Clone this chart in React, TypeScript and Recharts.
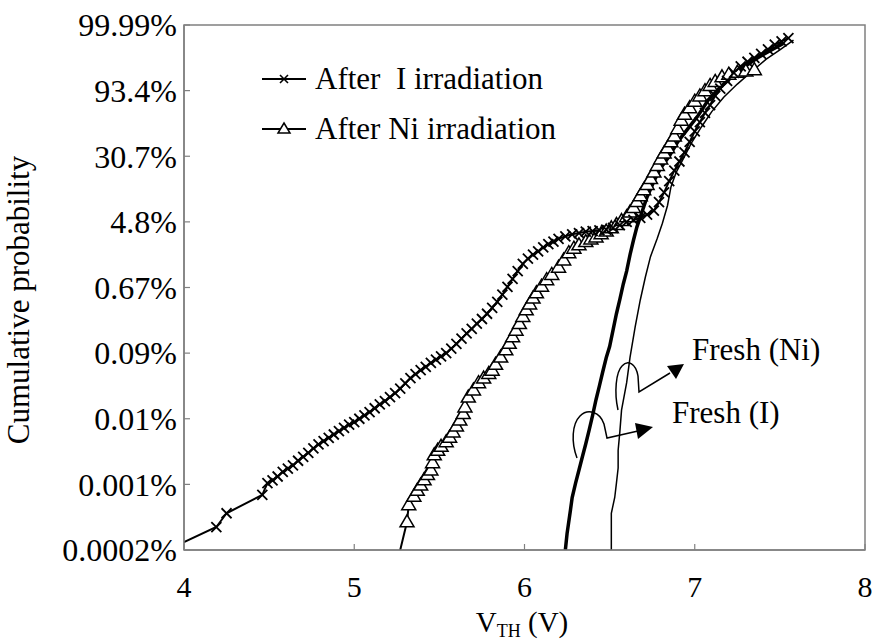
import { LineChart, Line, XAxis, YAxis, ReferenceArea, Customized } from "recharts";

const FONT = '"Liberation Serif", "Times New Roman", serif';
const AXIS_GRAY = "#808080";

// y axis is an evenly spaced probability scale, one step per label
const probTicks = [0, 1, 2, 3, 4, 5, 6, 7, 8];
const probLabels = ["0.0002%", "0.001%", "0.01%", "0.09%", "0.67%", "4.8%", "30.7%", "93.4%", "99.99%"];
const vthTicks = [4, 5, 6, 7, 8];

// [V_TH (V), probability step]
const afterI: [number, number][] = [
  [4.0, 0.12], [4.19, 0.35], [4.25, 0.56], [4.46, 0.84], [4.49, 1.02], [4.52, 1.06],
  [4.55, 1.12], [4.58, 1.19], [4.61, 1.24], [4.64, 1.29], [4.67, 1.36], [4.7, 1.42],
  [4.73, 1.48], [4.76, 1.55], [4.79, 1.61], [4.82, 1.66], [4.85, 1.71], [4.88, 1.76],
  [4.91, 1.81], [4.94, 1.86], [4.97, 1.91], [5.0, 1.95], [5.03, 2.0], [5.06, 2.05],
  [5.09, 2.1], [5.12, 2.16], [5.15, 2.22], [5.18, 2.27], [5.21, 2.33], [5.24, 2.39],
  [5.27, 2.46], [5.3, 2.54], [5.33, 2.62], [5.36, 2.68], [5.39, 2.74], [5.42, 2.79],
  [5.45, 2.85], [5.48, 2.9], [5.51, 2.95], [5.54, 3.0], [5.57, 3.07], [5.6, 3.14],
  [5.63, 3.22], [5.66, 3.3], [5.69, 3.37], [5.72, 3.45], [5.75, 3.52], [5.78, 3.6],
  [5.81, 3.69], [5.84, 3.78], [5.87, 3.89], [5.9, 4.01], [5.93, 4.13], [5.96, 4.25],
  [5.99, 4.36], [6.02, 4.44], [6.05, 4.5], [6.08, 4.55], [6.11, 4.61], [6.14, 4.66],
  [6.17, 4.7], [6.2, 4.74], [6.24, 4.78], [6.28, 4.81], [6.32, 4.83], [6.36, 4.85],
  [6.4, 4.86], [6.44, 4.87], [6.48, 4.88], [6.52, 4.91], [6.56, 4.95], [6.6, 5.0],
  [6.64, 5.03], [6.68, 5.06], [6.72, 5.11], [6.76, 5.17], [6.79, 5.3], [6.82, 5.45],
  [6.85, 5.62], [6.88, 5.78], [6.91, 5.92], [6.94, 6.06], [6.97, 6.22], [7.0, 6.38],
  [7.03, 6.52], [7.06, 6.66], [7.09, 6.78], [7.12, 6.92], [7.15, 7.03], [7.19, 7.15],
  [7.23, 7.27], [7.27, 7.37], [7.31, 7.44], [7.35, 7.5], [7.39, 7.56], [7.43, 7.63],
  [7.47, 7.7], [7.51, 7.75], [7.55, 7.8],
];

const afterNi: [number, number][] = [
  [5.27, 0.0], [5.31, 0.43], [5.32, 0.69], [5.35, 0.82], [5.37, 0.91], [5.39, 0.99],
  [5.41, 1.07], [5.43, 1.15], [5.45, 1.22], [5.46, 1.33], [5.47, 1.45], [5.49, 1.52],
  [5.51, 1.58], [5.54, 1.65], [5.56, 1.72], [5.58, 1.8], [5.6, 1.89], [5.62, 1.98],
  [5.64, 2.08], [5.65, 2.18], [5.67, 2.33], [5.7, 2.44], [5.73, 2.55], [5.76, 2.62],
  [5.79, 2.69], [5.81, 2.74], [5.83, 2.83], [5.86, 2.94], [5.89, 3.05], [5.91, 3.15],
  [5.93, 3.25], [5.95, 3.35], [5.97, 3.45], [5.99, 3.56], [6.01, 3.66], [6.03, 3.75],
  [6.05, 3.84], [6.07, 3.92], [6.1, 4.02], [6.13, 4.12], [6.16, 4.2], [6.2, 4.31],
  [6.23, 4.42], [6.26, 4.53], [6.29, 4.6], [6.32, 4.65], [6.36, 4.7], [6.39, 4.74],
  [6.42, 4.77], [6.45, 4.82], [6.48, 4.86], [6.51, 4.91], [6.54, 4.96], [6.57, 5.02],
  [6.6, 5.08], [6.62, 5.15], [6.64, 5.22], [6.66, 5.31], [6.68, 5.4], [6.7, 5.49],
  [6.72, 5.57], [6.74, 5.66], [6.76, 5.76], [6.78, 5.86], [6.8, 5.96], [6.82, 6.05],
  [6.84, 6.13], [6.86, 6.22], [6.88, 6.31], [6.9, 6.42], [6.92, 6.55], [6.94, 6.64],
  [6.97, 6.74], [7.0, 6.84], [7.03, 6.92], [7.06, 7.0], [7.09, 7.08], [7.12, 7.14],
  [7.16, 7.21], [7.2, 7.25], [7.25, 7.28], [7.3, 7.3], [7.35, 7.32],
];

const freshI: [number, number][] = [
  [6.24, 0.0], [6.25, 0.25], [6.27, 0.61], [6.28, 0.8], [6.3, 1.02], [6.32, 1.22],
  [6.34, 1.42], [6.36, 1.62], [6.38, 1.83], [6.4, 2.05], [6.42, 2.29], [6.44, 2.5],
  [6.46, 2.72], [6.48, 2.93], [6.5, 3.1], [6.52, 3.35], [6.54, 3.6], [6.56, 3.82],
  [6.58, 4.05], [6.6, 4.25], [6.62, 4.5], [6.64, 4.72], [6.66, 4.92], [6.69, 5.15],
  [6.72, 5.38], [6.76, 5.62], [6.8, 5.82], [6.85, 6.0], [6.9, 6.22], [6.96, 6.42],
  [7.02, 6.62], [7.08, 6.86], [7.15, 7.05], [7.23, 7.24], [7.3, 7.38], [7.37, 7.5],
  [7.45, 7.62], [7.52, 7.72],
];

const freshNi: [number, number][] = [
  [6.51, 0.0], [6.51, 0.3], [6.51, 0.56], [6.53, 0.8], [6.54, 1.02], [6.55, 1.25],
  [6.55, 1.52], [6.56, 1.8], [6.57, 2.13], [6.6, 2.55], [6.62, 2.94], [6.65, 3.4],
  [6.68, 3.81], [6.71, 4.16], [6.74, 4.47], [6.78, 4.75], [6.81, 4.98], [6.84, 5.25],
  [6.86, 5.53], [6.89, 5.75], [6.93, 5.95], [6.98, 6.2], [7.04, 6.45], [7.1, 6.68],
  [7.17, 6.9], [7.25, 7.1], [7.33, 7.28], [7.42, 7.48], [7.5, 7.62], [7.58, 7.77],
];

const toRows = (pts: [number, number][]) => pts.map(([v, k]) => ({ v, k }));

function renderCross(props: any) {
  const { cx, cy, index } = props;
  if (index === 0 || cx == null || cy == null) return <g key={`x-${index}`} />;
  const s = 5;
  return (
    <path
      key={`x-${index}`}
      d={`M${cx - s},${cy - s}L${cx + s},${cy + s}M${cx - s},${cy + s}L${cx + s},${cy - s}`}
      stroke="#000"
      strokeWidth={1.8}
      fill="none"
    />
  );
}

function renderTriangle(props: any) {
  const { cx, cy, index } = props;
  if (index === 0 || cx == null || cy == null) return <g key={`t-${index}`} />;
  return (
    <path
      key={`t-${index}`}
      d={`M${cx},${cy - 7}L${cx + 7},${cy + 5}L${cx - 7},${cy + 5}Z`}
      stroke="#000"
      strokeWidth={1.5}
      fill="#fff"
    />
  );
}

function Annotations() {
  return (
    <g fontFamily={FONT} fill="#000">
      {/* legend */}
      <line x1={262} y1={79} x2={306} y2={79} stroke="#000" strokeWidth={2} />
      <path d="M280,75L288,83M280,83L288,75" stroke="#000" strokeWidth={1.6} />
      <text x={315} y={89} fontSize={31}>{"After\u00a0 I irradiation"}</text>
      <line x1={262} y1={129} x2={306} y2={129} stroke="#000" strokeWidth={2} />
      <path d="M284,123L290,133L278,133Z" stroke="#000" strokeWidth={1.5} fill="#fff" />
      <text x={315} y={139} fontSize={31}>After Ni irradiation</text>

      {/* Fresh (Ni) callout */}
      <path
        d="M618,410 C614,392 616,372 622,366 C628,359 636,364 638,376 L639,392 L670,373"
        stroke="#000"
        strokeWidth={1.5}
        fill="none"
      />
      <path d="M667,366L684,364L676,379Z" fill="#000" />
      <text x={692} y={360} fontSize={31}>Fresh (Ni)</text>

      {/* Fresh (I) callout */}
      <path
        d="M577,458 C571,442 572,424 580,416 C588,408 600,412 604,424 L607,438 L638,431"
        stroke="#000"
        strokeWidth={1.5}
        fill="none"
      />
      <path d="M635,423L653,427L638,439Z" fill="#000" />
      <text x={672} y={423} fontSize={31}>Fresh (I)</text>

      {/* axis titles */}
      <text x={29} y={300} fontSize={31} textAnchor="middle" transform="rotate(-90, 29, 300)">
        Cumulative probability
      </text>
      <text x={522} y={632} fontSize={29} textAnchor="middle">
        V<tspan fontSize={18} dy={5}>TH</tspan>
        <tspan dy={-5}> (V)</tspan>
      </text>
    </g>
  );
}

export default function App() {
  return (
    <div style={{ position: "absolute", left: 0, top: 0, background: "#fff" }}>
      <LineChart width={874} height={641} margin={{ top: 25, right: 9, bottom: 0, left: 0 }}>
        <XAxis
          type="number"
          dataKey="v"
          domain={[4, 8]}
          ticks={vthTicks}
          interval={0}
          allowDataOverflow
          height={91}
          tickSize={-6}
          tickMargin={32}
          axisLine={{ stroke: AXIS_GRAY, strokeWidth: 1.5 }}
          tickLine={{ stroke: AXIS_GRAY, strokeWidth: 1.2 }}
          tick={{ fill: "#000", fontSize: 30, fontFamily: FONT }}
        />
        <YAxis
          type="number"
          dataKey="k"
          domain={[0, 8]}
          ticks={probTicks}
          interval={0}
          allowDataOverflow
          width={184}
          tickSize={-6}
          tickMargin={13}
          tickFormatter={(k: number) => probLabels[k] ?? ""}
          axisLine={{ stroke: AXIS_GRAY, strokeWidth: 1.5 }}
          tickLine={{ stroke: AXIS_GRAY, strokeWidth: 1.2 }}
          tick={{ fill: "#000", fontSize: 32, fontFamily: FONT }}
        />
        <ReferenceArea x1={4} x2={8} y1={0} y2={8} fill="none" stroke={AXIS_GRAY} strokeWidth={1.5} />
        <Line
          data={toRows(freshNi)}
          dataKey="k"
          type="linear"
          stroke="#000"
          strokeWidth={1.5}
          dot={false}
          activeDot={false}
          isAnimationActive={false}
        />
        <Line
          data={toRows(freshI)}
          dataKey="k"
          type="linear"
          stroke="#000"
          strokeWidth={3.5}
          dot={false}
          activeDot={false}
          isAnimationActive={false}
        />
        <Line
          data={toRows(afterNi)}
          dataKey="k"
          type="linear"
          stroke="#000"
          strokeWidth={2}
          dot={renderTriangle}
          activeDot={false}
          isAnimationActive={false}
        />
        <Line
          data={toRows(afterI)}
          dataKey="k"
          type="linear"
          stroke="#000"
          strokeWidth={2}
          dot={renderCross}
          activeDot={false}
          isAnimationActive={false}
        />
        <Customized component={<Annotations />} />
      </LineChart>
    </div>
  );
}
